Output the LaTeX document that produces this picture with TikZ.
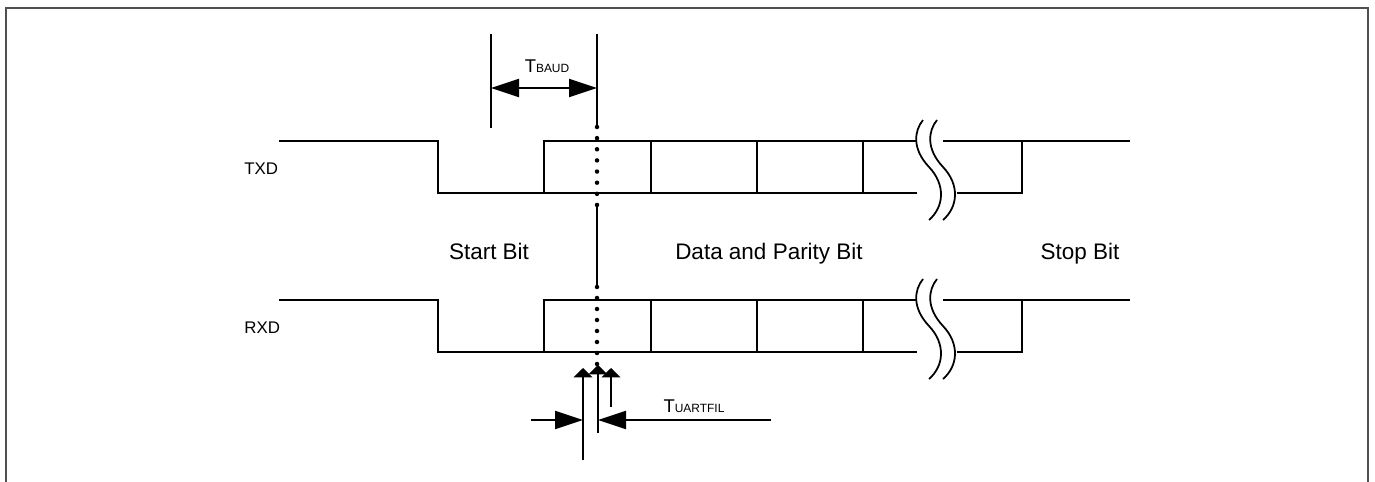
\documentclass[tikz,border=0pt]{standalone}
\usepackage{fontspec}
\setmainfont{Liberation Sans}
\usetikzlibrary{calc,arrows.meta}
\definecolor{wireInk}{RGB}{0,0,0}
\definecolor{frameInk}{RGB}{80,80,80}
\tikzset{
  wire/.style={wireInk,line width=1pt},
  dimline/.style={wireInk,line width=1.1pt},
  bigtip/.style={-{Triangle[length=0.56cm,width=0.36cm]}},
  smalltip/.style={-{Triangle[length=0.19cm,width=0.38cm]}},
  biglabel/.style={inner sep=0pt,anchor=base,font=\fontsize{12.8}{15}\selectfont},
  siglabel/.style={inner sep=0pt,anchor=base west,font=\fontsize{9.6}{11}\selectfont}
}
\newcommand{\TSub}[1]{{\fontsize{10.5}{12}\selectfont T}{\fontsize{6.8}{8}\selectfont #1}}
\newcommand{\SignalRow}[3]{% #1 high level, #2 low level, #3 name
  \draw[wire] (279,#1) -- (438,#1) -- (438,#2) -- (917,#2);
  \draw[wire] (544,#2) -- (544,#1) -- (917,#1);
  \draw[wire] (651,#1) -- (651,#2);
  \draw[wire] (757,#1) -- (757,#2);
  \draw[wire] (863,#1) -- (863,#2);
  \draw[wire] (943,#1) -- (1130,#1);
  \draw[wire] (957,#2) -- (1022,#2) -- (1022,#1);
  % break mark
  \draw[wire] (923,#1-21) .. controls (914,#1-10) and (912,#1+8) .. (929,#1+26)
    .. controls (946,#1+44) and (944,#1+66) .. (929,#1+79);
  \draw[wire] (937,#1-21) .. controls (928,#1-10) and (926,#1+8) .. (943,#1+26)
    .. controls (960,#1+44) and (958,#1+66) .. (943,#1+79);
  \node[siglabel] (#3) at (244,#1+34) {#3};
}

\begin{document}
\begin{tikzpicture}[x=0.02cm,y=-0.02cm,line cap=butt,line join=miter]
  \useasboundingbox (0,0) rectangle (1375,482);
  \draw[frameInk,line width=0.6pt] (6,482) -- (6,8) -- (1368,8) -- (1368,482);

  \SignalRow{141}{193}{TXD}
  \SignalRow{300}{352}{RXD}

  % sampling line
  \draw[wire] (597,34) -- (597,127);
  \foreach \k in {0,...,7}
    \fill[wireInk] (597,{127+\k*11.14}) circle[radius=0.045cm];
  \draw[wire] (597,205) -- (597,287);
  \foreach \k in {0,...,7}
    \fill[wireInk] (597,{287+\k*11}) circle[radius=0.045cm];

  % baud period
  \coordinate (baudL) at (491,88);
  \coordinate (baudR) at (597,88);
  \draw[wire] (491,34) -- (491,128);
  \draw[dimline,{Triangle[length=0.56cm,width=0.36cm]}-{Triangle[length=0.56cm,width=0.36cm]}] (baudL) -- (baudR);
  \node[inner sep=0pt,anchor=base] (tbaud) at (547,73) {\TSub{BAUD}};

  % bit names
  \node[biglabel] (start) at (489,260) {Start Bit};
  \node[biglabel] (data) at (769,260) {Data and Parity Bit};
  \node[biglabel] (stop) at (1080,260) {Stop Bit};

  % filter window
  \coordinate (filA) at (583,460);
  \coordinate (filAtip) at (583,368);
  \coordinate (filB) at (598,433);
  \coordinate (filBtip) at (598,365);
  \coordinate (filC) at (611,407);
  \coordinate (filCtip) at (611,368);
  \draw[wire,smalltip] (filA) -- (filAtip);
  \draw[wire,smalltip] (filB) -- (filBtip);
  \draw[wire,smalltip] (filC) -- (filCtip);
  \coordinate (winL) at (531,420);
  \coordinate (winLtip) at (583,420);
  \coordinate (winR) at (771,420);
  \coordinate (winRtip) at (598,420);
  \draw[dimline,bigtip] (winL) -- (winLtip);
  \draw[dimline,bigtip] (winR) -- (winRtip);
  \node[inner sep=0pt,anchor=base] (tfil) at (694,413) {\TSub{UARTFIL}};
\end{tikzpicture}
\end{document}
